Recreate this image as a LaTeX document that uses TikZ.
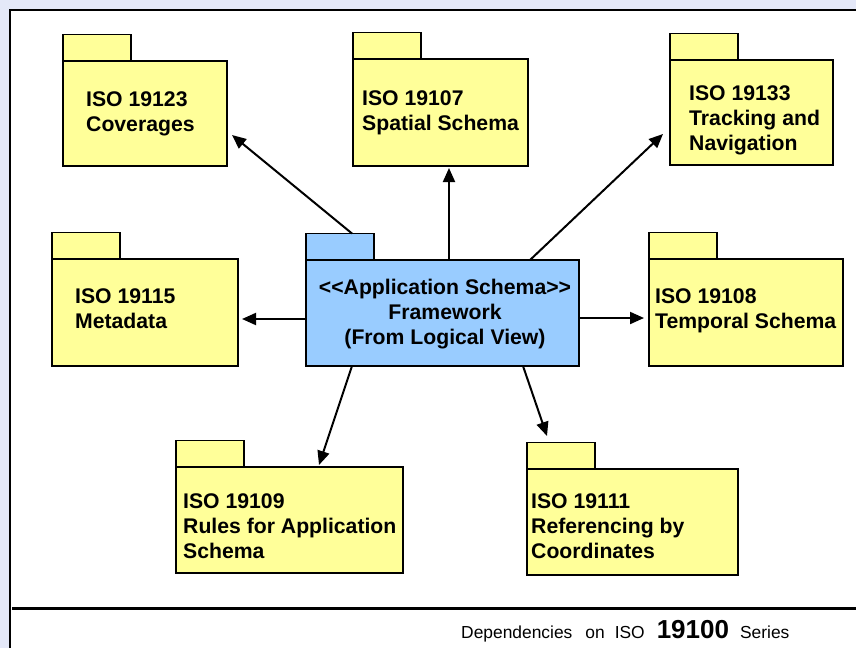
\documentclass[tikz,border=0pt]{standalone}
\usepackage{fontspec}
\setmainfont{Liberation Sans}
\usetikzlibrary{arrows.meta}
\definecolor{bgblue}{HTML}{E4E8F8}
\definecolor{pkgyellow}{HTML}{FFFF99}
\definecolor{pkgblue}{HTML}{99CCFF}
\newcommand\umlpkg[6]{%
  \node[pkgshape, fill=#6, minimum width=68pt, minimum height=26.5pt] (#1t) at (#2,#3-26.5) {};
  \node[pkgshape, fill=#6, minimum width=#4pt, minimum height=#5pt] (#1) at (#2,#3) {};
}
\begin{document}
\begin{tikzpicture}[x=1pt,y=-1pt,
  pkgshape/.style={draw=black, line width=1.6pt, rectangle, inner sep=0pt, outer sep=0pt, anchor=north west},
  lbl/.style={font=\bfseries\fontsize{21.2}{25}\selectfont, align=left, inner sep=0pt, anchor=north west},
  dep/.style={-{Triangle[length=14pt,width=12pt]}, line width=2pt}]
\useasboundingbox (0,0) rectangle (856,648);
% frame
\fill[bgblue] (0,0) rectangle (856,648);
\fill[white] (10,10) rectangle (856,648);
\draw[line width=2pt] (10,648) -- (10,10) -- (856,10);
\draw[line width=3pt] (12,608) -- (856,608);
% packages
\umlpkg{p23}{63}{61}{164}{105}{pkgyellow}
\umlpkg{p07}{353}{59}{175}{107}{pkgyellow}
\umlpkg{p33}{670}{60}{163}{105}{pkgyellow}
\umlpkg{p15}{52}{259}{186}{107}{pkgyellow}
\umlpkg{c}{306}{260}{273}{106}{pkgblue}
\umlpkg{p08}{649}{259}{194}{107}{pkgyellow}
\umlpkg{p09}{176}{467}{227}{106}{pkgyellow}
\umlpkg{p11}{527}{469}{211}{106}{pkgyellow}
% labels
\node[lbl] (t23) at (86,91) {ISO 19123\\Coverages};
\node[lbl] (t07) at (362,90) {ISO 19107\\Spatial Schema};
\node[lbl] (t33) at (689,85) {ISO 19133\\Tracking and\\Navigation};
\node[lbl] (t15) at (75,288) {ISO 19115\\Metadata};
\node[lbl] (t08) at (655,288) {ISO 19108\\Temporal Schema};
\node[lbl] (t09) at (183,493) {ISO 19109\\Rules for Application\\Schema};
\node[lbl] (t11) at (531,493) {ISO 19111\\Referencing by\\Coordinates};
\node[lbl, align=center, anchor=north] (tc) at (445,279) {<\kern0pt<Application Schema>\kern0pt>\\Framework\\(From Logical View)};
% dependencies
\draw[dep] ([shift={(-22,0)}]ct.north east) -- ([shift={(5,21.5)}]p23.east);
\draw[dep] ([shift={(6.5,0)}]c.north) -- ([shift={(8.5,2)}]p07.south);
\draw[dep] ([shift={(-49,0)}]c.north east) -- ([shift={(-7,21.5)}]p33.west);
\draw[dep] ([shift={(0,6)}]c.west) -- ([shift={(4,6.5)}]p15.east);
\draw[dep] ([shift={(0,5)}]c.east) -- ([shift={(-5,5.5)}]p08.west);
\draw[dep] ([shift={(46,0)}]c.south west) -- ([shift={(29.5,-2)}]p09.north);
\draw[dep] ([shift={(217,0)}]c.south west) -- ([shift={(20,-33)}]p11.north west);
% caption
\node[anchor=base west, inner sep=0pt, font=\fontsize{17.4}{20}\selectfont] (cap) at (461,638) {Dependencies\hspace{13pt}on\hspace{10pt}ISO\hspace{12pt}{\bfseries\fontsize{26}{30}\selectfont 19100}\hspace{11pt}Series};
\end{tikzpicture}
\end{document}
